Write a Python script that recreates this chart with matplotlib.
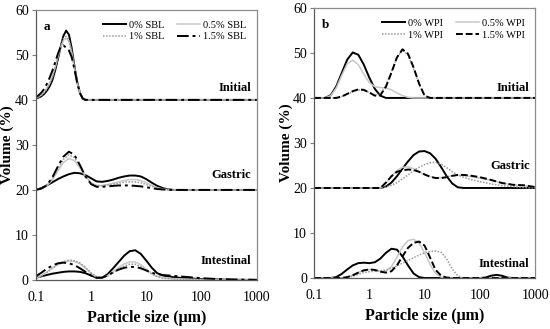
"""
Particle size distributions, initial / gastric / intestinal, SBL and WPI
"""

import matplotlib
matplotlib.use("Agg")
import matplotlib.pyplot as plt

plt.rcParams['font.family'] = ['Liberation Serif', 'DejaVu Serif']

# particle sizes (um) for each stage
size_a_init = [0.1, 0.112, 0.126, 0.141, 0.158, 0.178, 0.2, 0.224, 0.251, 0.282, 0.316, 0.355,
               0.398, 0.447, 0.501, 0.562, 0.631, 0.708, 0.794, 1, 10, 100, 1000]
size_a_gast = [0.1, 0.126, 0.158, 0.2, 0.251, 0.316, 0.398, 0.501, 0.631, 0.794, 1, 1.26, 1.58,
               2.0, 2.51, 3.16, 3.98, 5.01, 6.31, 7.94, 10, 12.6, 15.8, 20, 25.1, 31.6, 100, 1000]
size_a_int = [0.1, 0.126, 0.158, 0.2, 0.251, 0.316, 0.398, 0.501, 0.631, 0.794, 1, 1.26, 1.58,
              2.0, 2.51, 3.16, 3.98, 5.01, 6.31, 7.94, 10, 12.6, 15.8, 20, 25.1, 31.6,
              50.1, 100, 200, 398, 1000]
size_b_init = [0.1, 0.126, 0.158, 0.2, 0.251, 0.316, 0.398, 0.501, 0.631, 0.794, 1, 1.26, 1.58,
               2.0, 2.51, 3.16, 3.98, 5.01, 6.31, 7.94, 10, 12.6, 100, 1000]
size_b_gast = [0.1, 1.58, 2.0, 2.51, 3.16, 3.98, 5.01, 6.31, 7.94, 10, 12.6, 15.8, 20, 25.1,
               31.6, 39.8, 50.1, 63.1, 100, 158, 251, 398, 631, 1000]
size_b_int = [0.1, 0.2, 0.251, 0.316, 0.398, 0.501, 0.631, 0.794, 1, 1.26, 1.58, 2.0, 2.51,
              3.16, 3.98, 5.01, 6.31, 7.94, 10, 12.6, 15.8, 20, 25.1, 31.6, 39.8, 50.1,
              100, 126, 158, 200, 251, 316, 398, 1000]

# volume (%) - panel a, SBL
a_init_0 = [0.3, 0.5, 0.8, 1.3, 2.0, 3.0, 4.4, 6.5, 9.0, 11.8, 14.2, 15.4, 14.5, 11.5, 7.5, 4.0, 1.5, 0.3, 0, 0, 0, 0, 0]
a_init_05 = [0.4, 0.7, 1.1, 1.7, 2.6, 3.7, 5.2, 7.2, 9.5, 11.7, 13.2, 13.7, 13.0, 10.6, 7.2, 3.9, 1.5, 0.3, 0, 0, 0, 0, 0]
a_init_1 = [0.4, 0.6, 1.0, 1.6, 2.4, 3.5, 5.0, 7.0, 9.4, 11.8, 13.6, 14.1, 13.3, 10.8, 7.3, 3.9, 1.5, 0.3, 0, 0, 0, 0, 0]
a_init_15 = [0.6, 1.0, 1.6, 2.4, 3.5, 4.9, 6.5, 8.3, 10.2, 11.8, 12.1, 11.6, 11.0, 9.5, 6.8, 3.8, 1.5, 0.3, 0, 0, 0, 0, 0]

a_gast_0 = [0, 0.4, 1.0, 1.7, 2.4, 3.0, 3.5, 3.8, 3.7, 3.3, 2.6, 1.9, 1.8, 2.0, 2.3, 2.7, 3.0, 3.2, 3.2, 3.0,
            2.4, 1.6, 0.9, 0.4, 0.1, 0, 0, 0]
a_gast_05 = [0, 0.3, 0.9, 2.2, 4.2, 6.1, 7.0, 6.5, 4.9, 3.0, 1.6, 1.0, 1.0, 1.2, 1.5, 1.8, 2.1, 2.3, 2.3, 2.1,
             1.6, 1.0, 0.5, 0.2, 0.05, 0, 0, 0]
a_gast_1 = [0, 0.3, 1.0, 2.5, 4.7, 6.8, 7.8, 7.2, 5.3, 3.1, 1.5, 0.9, 0.9, 1.1, 1.3, 1.5, 1.7, 1.8, 1.8, 1.6,
            1.2, 0.8, 0.4, 0.2, 0.05, 0, 0, 0]
a_gast_15 = [0, 0.3, 1.0, 2.8, 5.2, 7.4, 8.5, 7.8, 5.5, 3.0, 1.3, 0.7, 0.7, 0.8, 0.9, 1.0, 1.0, 1.0, 0.9, 0.8,
             0.6, 0.4, 0.2, 0.1, 0.05, 0, 0, 0]

a_int_0 = [0.5, 0.8, 1.1, 1.4, 1.6, 1.8, 1.9, 1.9, 1.8, 1.5, 1.0, 0.5, 0.5, 1.3, 2.6, 4.0, 5.4, 6.4, 6.6, 5.8,
           4.3, 2.7, 1.5, 1.0, 0.8, 0.6, 0.4, 0.2, 0.1, 0.05, 0]
a_int_05 = [0.4, 1.0, 1.8, 2.7, 3.4, 3.9, 4.2, 4.1, 3.6, 2.6, 1.5, 0.6, 0.5, 1.0, 1.8, 2.8, 3.6, 4.0, 4.0, 3.4,
            2.4, 1.4, 0.8, 0.5, 0.4, 0.3, 0.2, 0.1, 0.05, 0, 0]
a_int_1 = [0.3, 0.8, 1.6, 2.6, 3.5, 4.1, 4.4, 4.3, 3.8, 2.8, 1.6, 0.7, 0.5, 0.9, 1.6, 2.4, 3.1, 3.5, 3.5, 3.0,
           2.2, 1.3, 0.7, 0.4, 0.3, 0.2, 0.15, 0.1, 0.05, 0, 0]
a_int_15 = [0.8, 1.6, 2.5, 3.2, 3.7, 3.85, 3.7, 3.3, 2.6, 1.8, 1.0, 0.5, 0.5, 1.0, 1.7, 2.3, 2.7, 2.9, 2.9, 2.6,
            2.1, 1.6, 1.3, 1.1, 1.0, 0.9, 0.7, 0.4, 0.2, 0.1, 0.05]

# volume (%) - panel b, WPI
b_init_0 = [0, 0, 0, 0.6, 2.5, 5.5, 8.5, 10.1, 9.6, 7.4, 4.5, 2.0, 0.5, 0, 0, 0, 0, 0, 0, 0, 0, 0, 0, 0]
b_init_05 = [0, 0, 0, 0.5, 2.2, 5.0, 7.6, 8.4, 7.4, 5.3, 3.4, 2.5, 2.3, 2.2, 1.8, 1.1, 0.5, 0.15, 0, 0, 0, 0, 0, 0]
b_init_1 = [0, 0, 0, 0, 0, 0.3, 0.8, 1.4, 1.8, 1.7, 1.2, 0.6, 0.8, 2.8, 5.8, 9.0, 10.6, 9.5, 6.5, 3.0, 0.5, 0, 0, 0]
b_init_15 = [0, 0, 0, 0, 0, 0.3, 0.9, 1.5, 1.9, 1.8, 1.2, 0.5, 0.6, 2.5, 5.6, 9.0, 10.8, 9.8, 6.8, 3.2, 0.5, 0, 0, 0]

b_gast_0 = [0, 0, 0.3, 1.2, 2.6, 4.3, 5.9, 7.3, 8.1, 8.2, 7.7, 6.5, 4.6, 2.6, 1.0, 0.15, 0, 0, 0, 0, 0, 0, 0, 0]
b_gast_05 = [0, 0, 1.0, 2.6, 3.9, 4.6, 4.7, 4.3, 3.6, 3.0, 2.5, 2.3, 2.3, 2.5, 2.7, 2.8, 2.8, 2.6,
             2.2, 1.7, 1.1, 0.7, 0.5, 0.2]
b_gast_1 = [0, 0, 0.2, 0.6, 1.2, 2.0, 2.9, 3.8, 4.6, 5.2, 5.6, 5.7, 5.3, 4.5, 3.6, 2.9, 2.4, 2.0,
            1.4, 0.9, 0.5, 0.3, 0.1, 0]
b_gast_15 = [0, 0, 1.2, 2.6, 3.6, 3.9, 4.1, 4.0, 3.6, 3.0, 2.5, 2.2, 2.2, 2.4, 2.7, 2.9, 2.9, 2.8,
             2.4, 1.8, 1.1, 0.7, 0.6, 0.2]

b_int_0 = [0, 0, 0.2, 0.9, 1.9, 2.8, 3.3, 3.4, 3.3, 3.5, 4.3, 5.6, 6.5, 6.3, 4.8, 2.8, 1.0, 0.2,
           0, 0, 0, 0, 0, 0, 0, 0, 0, 0.1, 0.5, 0.7, 0.5, 0.1, 0, 0]
b_int_05 = [0, 0, 0, 0, 0.2, 0.6, 1.2, 1.7, 1.9, 1.8, 1.5, 1.5, 2.5, 4.6, 6.9, 8.3, 8.6, 7.8,
            5.6, 3.0, 1.0, 0.2, 0, 0, 0, 0, 0, 0, 0, 0, 0, 0, 0, 0]
b_int_1 = [0, 0, 0, 0, 0.1, 0.4, 0.8, 1.2, 1.4, 1.5, 1.6, 1.8, 2.2, 2.7, 3.3, 3.9, 4.5, 5.1,
           5.6, 5.9, 6.0, 5.7, 4.2, 2.0, 0.5, 0, 0, 0, 0, 0, 0, 0, 0, 0]
b_int_15 = [0, 0, 0, 0, 0.2, 0.6, 1.2, 1.7, 1.9, 1.8, 1.4, 1.2, 1.5, 2.8, 4.8, 6.7, 7.8, 8.1,
            7.2, 4.5, 1.8, 0.5, 0.1, 0, 0, 0, 0, 0, 0, 0, 0, 0, 0, 0]

stage_names = ["Initial", "Gastric", "Intestinal"]
stage_offsets = [40, 20, 0]
sbl_labels = ["0% SBL", "0.5% SBL", "1% SBL", "1.5% SBL"]
wpi_labels = ["0% WPI", "0.5% WPI", "1% WPI", "1.5% WPI"]
yticks = [0, 10, 20, 30, 40, 50, 60]
xticks = [0.1, 1, 10, 100, 1000]
xticklabels = ["0.1", "1", "10", "100", "1000"]

fig = plt.figure(figsize=(5.5, 3.29), dpi=100)
ax_a = fig.add_axes([0.065, 0.149, 0.402, 0.821])
ax_b = fig.add_axes([0.571, 0.155, 0.402, 0.821])


def draw_panel(ax, stages, labels, last_style, letter, text_y):
    styles = [dict(color='black', lw=1.4, ls='-'),
              dict(color='#c8c8c8', lw=1.1, ls='-'),
              dict(color='#9a9a9a', lw=1.1, ls=(0, (1, 1))),
              dict(color='black', lw=1.4, ls=last_style)]
    handles = []
    for (sizes, series), off in zip(stages, stage_offsets):
        for i, vals in enumerate(series):
            ln, = ax.plot(sizes, [v + off for v in vals], **styles[i])
            if off == 40:
                handles.append(ln)
    ax.set_xscale('log')
    ax.set_xlim(0.1, 1000)
    ax.set_ylim(0, 60)
    ax.set_xticks(xticks)
    ax.set_xticklabels(xticklabels)
    ax.minorticks_off()
    ax.set_yticks(yticks)
    ax.tick_params(axis='x', length=0, labelsize=10, pad=8)
    ax.tick_params(axis='y', length=3, width=0.8, labelsize=10, color='#7f7f7f', pad=2)
    for sp in ax.spines.values():
        sp.set_color('#8c8c8c')
        sp.set_linewidth(0.9)
    ax.spines['left'].set_color('#595959')
    ax.spines['bottom'].set_color('#595959')
    ax.set_xlabel("Particle size (μm)", fontsize=11.5, fontweight='bold', labelpad=4)
    ax.set_ylabel("Volume (%)", fontsize=11, fontweight='bold')
    ax.yaxis.set_label_coords(-0.097, 0.5)
    for name, y in zip(stage_names, text_y):
        ax.text(0.975, y, name, transform=ax.get_yaxis_transform(), ha='right', va='center',
                fontsize=9, fontweight='bold')
    ax.text(0.035, 0.935, letter, transform=ax.transAxes, fontsize=9.5, fontweight='bold',
            va='center')
    order = [0, 2, 1, 3]
    ax.legend([handles[k] for k in order], [labels[k] for k in order], ncol=2,
              loc='upper right', bbox_to_anchor=(1.0, 1.0), frameon=False, fontsize=7.5,
              handlelength=2.2, columnspacing=1.2, handletextpad=0.3, labelspacing=0.25,
              borderaxespad=0.6)


draw_panel(ax_a,
           [(size_a_init, [a_init_0, a_init_05, a_init_1, a_init_15]),
            (size_a_gast, [a_gast_0, a_gast_05, a_gast_1, a_gast_15]),
            (size_a_int, [a_int_0, a_int_05, a_int_1, a_int_15])],
           sbl_labels, (0, (6, 2, 1.5, 2)), 'a', [42.7, 23.4, 4.2])
draw_panel(ax_b,
           [(size_b_init, [b_init_0, b_init_05, b_init_1, b_init_15]),
            (size_b_gast, [b_gast_0, b_gast_05, b_gast_1, b_gast_15]),
            (size_b_int, [b_int_0, b_int_05, b_int_1, b_int_15])],
           wpi_labels, (0, (3.5, 1.5)), 'b', [42.3, 24.8, 3.2])

fig.savefig("out.png", dpi=100)
